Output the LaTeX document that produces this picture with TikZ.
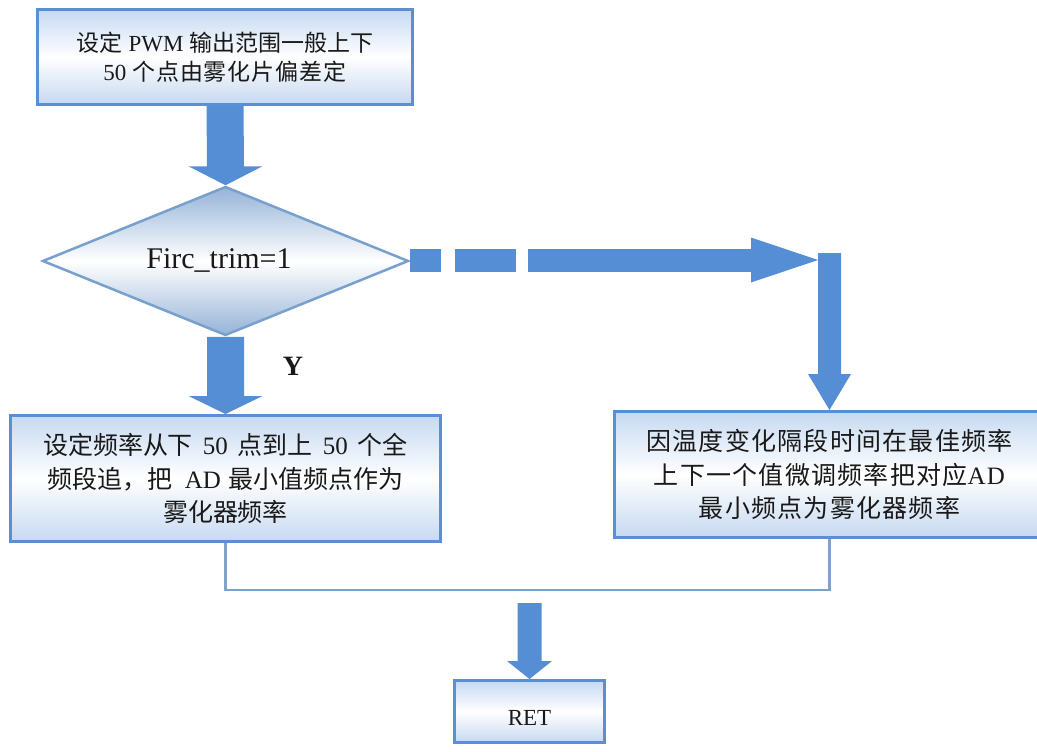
\documentclass[tikz,border=0pt]{standalone}
\usepackage{fontspec}
\setmainfont{Liberation Serif}
\newfontfamily\cj{Noto Sans CJK SC}
\newfontfamily\cjtop{Noto Sans CJK SC}[LetterSpace=4]
\newfontfamily\cjsp{Noto Sans CJK SC}[LetterSpace=5]
\newfontfamily\rmsp{Liberation Serif}[LetterSpace=5]
\usetikzlibrary{shapes.geometric,calc}

\definecolor{arrowblue}{RGB}{85,142,213}
\definecolor{boxedge}{RGB}{91,143,213}
\definecolor{boxtint}{RGB}{198,217,241}
\definecolor{diaedge}{RGB}{120,160,205}
\definecolor{diatint}{RGB}{149,179,215}
\definecolor{linkblue}{RGB}{125,163,204}
\definecolor{ink}{RGB}{25,25,25}

% block arrow pointing down: start, tip, half shaft, half head, head length
\newcommand\downblock[5]{%
  \fill[flow] ($(#1)+(-#3,0)$) -- ($(#1)+(#3,0)$) -- ($(#2)+(#3,-#5)$)
    -- ($(#2)+(#4,-#5)$) -- (#2) -- ($(#2)+(-#4,-#5)$) -- ($(#2)+(-#3,-#5)$) -- cycle;}
\newcommand\gapa{\hspace{10pt}}

\begin{document}
\begin{tikzpicture}[x=1pt,y=-1pt,
  box/.style={rectangle, draw=boxedge, line width=3pt, top color=boxtint,
    bottom color=boxtint, middle color=white, text=ink, align=center, inner sep=0pt},
  decision/.style={diamond, draw=diaedge, line width=2.5pt, top color=diatint,
    bottom color=diatint, middle color=white, inner sep=0pt},
  label/.style={text=ink, inner sep=0pt},
  link/.style={draw=linkblue, line width=2.5pt},
  flow/.style={fill=arrowblue}]

\useasboundingbox (0,0) rectangle (1037,752);
\fill[white] (0,0) rectangle (1037,752);

% process boxes and decision
\node[box, minimum width=375pt, minimum height=95pt,
  font=\fontsize{23}{29.5}\selectfont] (top) at (225,57)
  {{\cj 设定} PWM {\cj 输出范围一般上下}\\50 {\cjtop 个点由雾化片偏差定}};

\node[decision, minimum width=366pt, minimum height=149pt] (dia) at (225.5,261) {};
\node[label, anchor=base, font=\fontsize{30}{36}\selectfont] (diatext) at (219,268) {Firc\_trim=1};

\node[label, font=\bfseries\fontsize{28}{34}\selectfont] (yes) at (293,366) {Y};

\node[box, minimum width=430pt, minimum height=126pt,
  font=\fontsize{25}{33.5}\selectfont] (left) at (225.5,478.5)
  {{\cj 设定频率从下}\gapa 50\gapa{\cj 点到上}\gapa 50\gapa{\cj 个全}\\
   {\cj 频段追，把}\hspace{12pt}AD\hspace{7pt}{\cj 最小值频点作为}\\
   {\cj 雾化器频率}};

\node[box, minimum width=430pt, minimum height=126pt,
  font=\fontsize{25}{33.5}\selectfont] (right) at (829.5,474.5)
  {{\cjsp 因温度变化隔段时间在最佳频率}\\
   {\cjsp 上下一个值微调频率把对应}{\rmsp AD}\\
   {\cjsp 最小频点为雾化器频率}};

\node[box, minimum width=150pt, minimum height=62pt] (ret) at (529.5,711.5) {};
\node[label, font=\fontsize{23}{28}\selectfont] (rettext) at (529.5,718) {RET};

% helper points
\coordinate (turn) at (818,260);
\coordinate (drop) at (829.5,253);
\coordinate (merge) at (529.5,590);
\coordinate (retin) at (529.5,603);

% block arrows
\downblock{top.south}{dia.north}{18.5}{37}{19}
\downblock{dia.south}{left.north}{18.5}{37}{18}

\draw[arrowblue, line width=23pt,
  dash pattern=on 31pt off 14pt on 61pt off 12pt on 500pt]
  (dia.east |- turn) -- ($(turn)+(-67,0)$);
\fill[flow] ($(turn)+(-67,-22.5)$) -- (turn) -- ($(turn)+(-67,22.5)$) -- cycle;
\downblock{drop}{right.north}{11.5}{21.5}{36}

% joining lines to the final step
\draw[link] (left.south) -- (left.south |- merge) -- (right.south |- merge) -- (right.south);
\downblock{retin}{ret.north}{12}{22.5}{18}

\end{tikzpicture}
\end{document}
